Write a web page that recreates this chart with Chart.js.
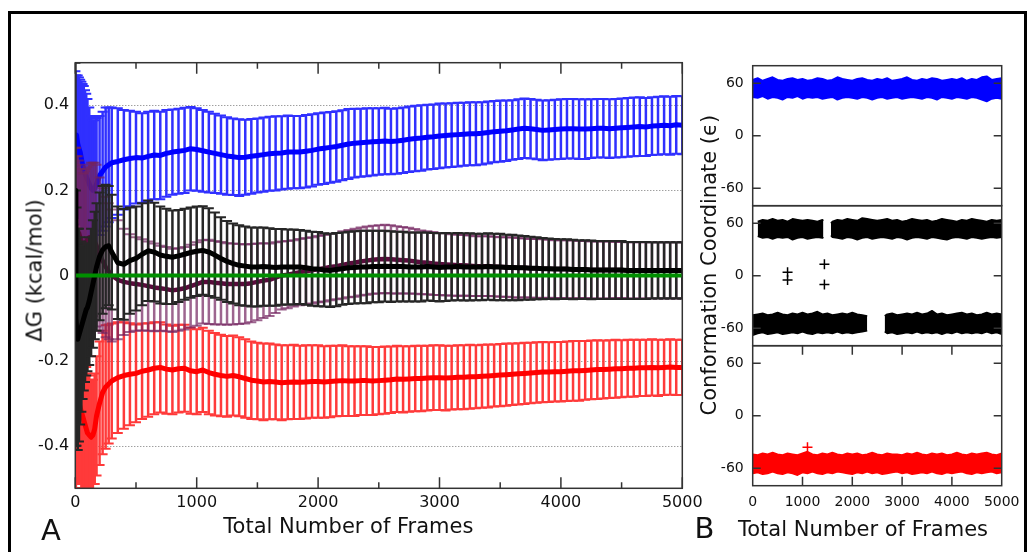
<!DOCTYPE html>
<html><head><meta charset="utf-8">
<script src="https://cdn.jsdelivr.net/npm/chart.js@4.4.1/dist/chart.umd.min.js"></script>
<style>
html,body{margin:0;padding:0;background:#fff;}
#root{position:relative;width:1031px;height:552px;overflow:hidden;background:#fff;}
canvas{position:absolute;}
.txt{position:absolute;white-space:nowrap;font-family:'DejaVu Sans',sans-serif;color:#111;}
</style></head><body><div id="root">
<div style="position:absolute;left:8px;top:11px;width:1019px;height:600px;border:3px solid #000;box-sizing:border-box;"></div>
<canvas id="cL" width="710" height="552" style="left:0;top:0;width:710px;height:552px"></canvas>
<canvas id="cR1" width="341" height="160" style="left:690px;top:55px;width:341px;height:160px"></canvas>
<canvas id="cR2" width="341" height="160" style="left:690px;top:195px;width:341px;height:160px"></canvas>
<canvas id="cR3" width="341" height="217" style="left:690px;top:335px;width:341px;height:217px"></canvas>
<div class="txt" style="left:-114.8px;top:259.5px;width:300px;height:21px;line-height:21px;font-size:21px;text-align:center;transform:rotate(-90deg);">ΔG (kcal/mol)</div>
<div class="txt" style="left:148.4px;top:515.5px;width:400px;height:21px;line-height:21px;font-size:21px;text-align:center;">Total Number of Frames</div>
<div class="txt" style="left:41px;top:516.2px;height:29px;line-height:29px;font-size:29px;">A</div>
<div class="txt" style="left:558.7px;top:255px;width:300px;height:21px;line-height:21px;font-size:21px;text-align:center;transform:rotate(-90deg);">Conformation Coordinate (ϵ)</div>
<div class="txt" style="left:663px;top:518.9px;width:400px;height:21px;line-height:21px;font-size:21px;text-align:center;">Total Number of Frames</div>
<div class="txt" style="left:694.4px;top:514px;height:29px;line-height:29px;font-size:29px;">B</div>
</div>
<script>
// ---------- Panel A data ----------
const frames = [1,5,10,20,30,40,50,60,70,80,
 90,100,115,130,145,160,175,200,225,250,
 275,
 300,350,400,450,500,550,600,650,700,750,
 800,850,900,950,1000,1050,1100,1150,1200,1250,
 1300,1350,1400,1450,1500,1550,1600,1650,1700,1750,
 1800,1850,1900,1950,2000,2050,2100,2150,2200,2250,
 2300,2350,2400,2450,2500,2550,2600,2650,2700,2750,
 2800,2850,2900,2950,3000,3050,3100,3150,3200,3250,
 3300,3350,3400,3450,3500,3550,3600,3650,3700,3750,
 3800,3850,3900,3950,4000,4050,4100,4150,4200,4250,
 4300,4350,4400,4450,4500,4550,4600,4650,4700,4750,
 4800,4850,4900,4950,5000];

const blueMean = [0.26,0.32,0.33,0.31,0.30,0.29,0.275,0.26,0.25,0.24,
 0.232,0.225,0.215,0.205,0.20,0.205,0.215,0.235,0.245,0.255,
 0.26,
 0.265,0.268,0.272,0.275,0.277,0.276,0.28,0.283,0.282,0.287,
 0.29,0.292,0.294,0.298,0.296,0.293,0.29,0.287,0.284,0.281,
 0.279,0.277,0.278,0.28,0.282,0.284,0.286,0.287,0.288,0.29,
 0.29,0.29,0.292,0.294,0.297,0.299,0.301,0.303,0.306,0.309,
 0.311,0.312,0.313,0.314,0.315,0.316,0.315,0.316,0.318,0.32,
 0.322,0.323,0.325,0.326,0.328,0.329,0.33,0.331,0.332,0.333,
 0.333,0.334,0.336,0.338,0.339,0.34,0.342,0.344,0.346,0.345,
 0.343,0.341,0.342,0.343,0.344,0.345,0.345,0.344,0.344,0.345,
 0.346,0.346,0.345,0.346,0.347,0.348,0.349,0.35,0.349,0.351,
 0.352,0.353,0.352,0.354,0.353];
const blueErr = [0.22,0.15,0.14,0.16,0.165,0.17,0.18,0.19,0.195,0.195,
 0.195,0.19,0.18,0.17,0.165,0.16,0.155,0.14,0.14,0.14,
 0.135,
 0.13,0.125,0.117,0.112,0.108,0.105,0.105,0.104,0.103,0.102,
 0.1,0.1,0.1,0.098,0.097,0.096,0.095,0.093,0.092,0.091,
 0.09,0.09,0.088,0.088,0.087,0.087,0.087,0.087,0.086,0.086,
 0.085,0.085,0.085,0.085,0.084,0.084,0.083,0.083,0.082,0.082,
 0.081,0.08,0.08,0.079,0.078,0.078,0.077,0.077,0.077,0.077,
 0.077,0.077,0.076,0.076,0.076,0.075,0.075,0.075,0.074,0.074,
 0.074,0.073,0.073,0.072,0.072,0.071,0.07,0.07,0.07,0.07,
 0.07,0.07,0.07,0.07,0.07,0.07,0.07,0.07,0.07,0.069,
 0.069,0.069,0.069,0.069,0.069,0.069,0.069,0.069,0.068,0.068,
 0.068,0.068,0.068,0.068,0.068];

const redMean = [-0.25,-0.30,-0.27,-0.29,-0.30,-0.31,-0.32,-0.33,-0.34,-0.35,
 -0.36,-0.37,-0.375,-0.38,-0.375,-0.36,-0.33,-0.30,-0.275,-0.262,
 -0.255,
 -0.248,-0.24,-0.235,-0.232,-0.23,-0.225,-0.222,-0.218,-0.216,-0.22,
 -0.222,-0.219,-0.218,-0.224,-0.226,-0.222,-0.228,-0.232,-0.235,-0.237,
 -0.235,-0.238,-0.242,-0.246,-0.248,-0.25,-0.249,-0.25,-0.252,-0.251,
 -0.25,-0.251,-0.25,-0.249,-0.249,-0.25,-0.249,-0.248,-0.247,-0.248,
 -0.248,-0.247,-0.247,-0.248,-0.247,-0.246,-0.245,-0.243,-0.244,-0.243,
 -0.242,-0.242,-0.241,-0.24,-0.24,-0.241,-0.24,-0.239,-0.239,-0.238,
 -0.238,-0.237,-0.236,-0.235,-0.234,-0.233,-0.232,-0.231,-0.23,-0.229,
 -0.228,-0.227,-0.227,-0.226,-0.226,-0.225,-0.224,-0.224,-0.223,-0.222,
 -0.221,-0.221,-0.22,-0.219,-0.219,-0.218,-0.218,-0.217,-0.217,-0.216,
 -0.217,-0.216,-0.215,-0.216,-0.216];
const redErr = [0.25,0.2,0.2,0.2,0.19,0.18,0.18,0.17,0.16,0.15,
 0.145,0.14,0.14,0.135,0.13,0.13,0.14,0.145,0.145,0.145,
 0.14,
 0.135,0.13,0.125,0.12,0.115,0.112,0.11,0.108,0.106,0.105,
 0.104,0.103,0.102,0.101,0.1,0.099,0.098,0.097,0.096,0.095,
 0.094,0.093,0.092,0.091,0.09,0.09,0.089,0.088,0.088,0.087,
 0.087,0.086,0.086,0.085,0.085,0.084,0.084,0.083,0.083,0.082,
 0.082,0.081,0.081,0.08,0.079,0.079,0.078,0.078,0.078,0.077,
 0.077,0.077,0.076,0.076,0.076,0.076,0.075,0.075,0.075,0.075,
 0.074,0.074,0.074,0.073,0.073,0.073,0.072,0.072,0.072,0.071,
 0.071,0.071,0.07,0.07,0.07,0.07,0.07,0.07,0.069,0.069,
 0.069,0.068,0.068,0.068,0.067,0.067,0.067,0.066,0.066,0.066,
 0.066,0.065,0.065,0.065,0.065];

const blackMean = [0.2,-0.1,-0.12,-0.15,-0.14,-0.13,-0.12,-0.11,-0.1,-0.09,
 -0.08,-0.075,-0.06,-0.04,-0.02,0.0,0.02,0.045,0.06,0.068,
 0.07,
 0.055,0.03,0.026,0.035,0.04,0.05,0.058,0.055,0.048,0.045,
 0.043,0.046,0.05,0.054,0.057,0.059,0.055,0.048,0.04,0.033,
 0.028,0.024,0.022,0.02,0.02,0.021,0.02,0.019,0.02,0.02,
 0.02,0.02,0.018,0.016,0.015,0.013,0.012,0.014,0.016,0.018,
 0.019,0.02,0.02,0.021,0.021,0.022,0.021,0.021,0.021,0.02,
 0.02,0.02,0.021,0.02,0.019,0.02,0.02,0.021,0.02,0.02,
 0.02,0.02,0.021,0.02,0.02,0.019,0.019,0.018,0.018,0.017,
 0.017,0.016,0.016,0.015,0.015,0.015,0.014,0.014,0.014,0.013,
 0.013,0.013,0.013,0.013,0.013,0.012,0.012,0.012,0.012,0.012,
 0.012,0.012,0.012,0.012,0.012];
const blackErr = [0.3,0.3,0.28,0.26,0.25,0.22,0.2,0.18,0.17,0.16,
 0.155,0.15,0.15,0.15,0.15,0.15,0.15,0.15,0.15,0.145,
 0.14,
 0.135,0.132,0.13,0.125,0.122,0.12,0.118,0.116,0.114,0.112,
 0.11,0.108,0.107,0.106,0.105,0.104,0.103,0.1,0.097,0.095,
 0.094,0.094,0.093,0.093,0.093,0.092,0.091,0.09,0.089,0.088,
 0.088,0.087,0.087,0.087,0.087,0.086,0.086,0.086,0.085,0.085,
 0.085,0.085,0.085,0.084,0.084,0.083,0.083,0.082,0.082,0.081,
 0.081,0.081,0.08,0.08,0.08,0.08,0.079,0.079,0.079,0.079,
 0.078,0.078,0.078,0.078,0.078,0.077,0.077,0.076,0.075,0.074,
 0.073,0.072,0.071,0.071,0.07,0.07,0.07,0.069,0.069,0.069,
 0.068,0.068,0.068,0.068,0.068,0.067,0.067,0.067,0.067,0.066,
 0.066,0.066,0.066,0.066,0.066];

const purpleMean = [0.0,0.05,0.08,0.1,0.1,0.09,0.08,0.07,0.07,0.075,
 0.08,0.085,0.09,0.09,0.085,0.08,0.07,0.05,0.035,0.02,
 0.01,
 0.0,-0.01,-0.015,-0.018,-0.02,-0.022,-0.025,-0.028,-0.03,-0.032,
 -0.035,-0.033,-0.03,-0.025,-0.02,-0.015,-0.015,-0.017,-0.018,-0.02,
 -0.02,-0.02,-0.02,-0.018,-0.015,-0.012,-0.01,-0.005,0.0,0.002,
 0.005,0.008,0.01,0.012,0.015,0.017,0.02,0.022,0.025,0.028,
 0.03,0.033,0.035,0.037,0.038,0.039,0.038,0.037,0.036,0.035,
 0.033,0.031,0.03,0.028,0.027,0.026,0.025,0.024,0.024,0.023,
 0.022,0.022,0.022,0.021,0.02,0.02,0.019,0.018,0.018,0.017,
 0.017,0.016,0.016,0.015,0.015,0.015,0.014,0.014,0.014,0.013,
 0.013,0.013,0.013,0.013,0.013,0.012,0.012,0.012,0.012,0.012,
 0.012,0.012,0.012,0.012,0.012];
const purpleErr = [0.3,0.25,0.2,0.18,0.17,0.17,0.17,0.17,0.17,0.17,
 0.17,0.17,0.17,0.175,0.18,0.185,0.19,0.18,0.17,0.165,
 0.16,
 0.155,0.14,0.125,0.115,0.11,0.107,0.105,0.103,0.1,0.099,
 0.098,0.097,0.097,0.097,0.098,0.098,0.099,0.098,0.097,0.096,
 0.095,0.094,0.093,0.092,0.09,0.088,0.085,0.083,0.08,0.079,
 0.078,0.078,0.078,0.078,0.078,0.078,0.078,0.078,0.079,0.079,
 0.08,0.08,0.08,0.08,0.08,0.08,0.08,0.079,0.078,0.077,
 0.076,0.075,0.074,0.074,0.073,0.073,0.072,0.072,0.071,0.071,
 0.07,0.07,0.07,0.07,0.07,0.07,0.07,0.07,0.069,0.069,
 0.069,0.069,0.068,0.068,0.068,0.068,0.068,0.067,0.067,0.067,
 0.067,0.067,0.067,0.066,0.066,0.066,0.066,0.066,0.066,0.066,
 0.066,0.066,0.066,0.066,0.066];

const greenFrames = [0,5000];
const greenValues = [0,0];

const leftXTicks = [0,1000,2000,3000,4000,5000];
const leftXMinor = [500,1500,2500,3500,4500];
const leftYTicks = [-0.4,-0.2,0,0.2,0.4];
const leftYGrid = [-0.4,-0.2,0.2,0.4];

// ---------- Panel B data ----------
const rFrames = [0,100,200,300,400,500,600,700,800,900,1000,1100,1200,1300,1400,1500,1600,1700,1800,1900,2000,
 2100,2200,2300,2400,2500,2600,2700,2800,2900,3000,3100,3200,3300,3400,3500,3600,3700,3800,3900,4000,
 4100,4200,4300,4400,4500,4600,4700,4800,4900,5000];
const blueHi = [64,66,63,65,67,64,63,65,66,64,65,63,64,66,65,63,64,67,65,64,63,65,66,64,63,65,64,66,63,64,
 65,67,64,63,65,64,66,65,63,64,65,64,66,63,65,64,67,68,64,65,66];
const blueLo = [44,43,45,42,44,43,41,44,43,45,42,44,43,44,42,43,44,41,43,44,43,42,44,43,41,43,44,42,43,44,
 42,43,44,43,42,44,43,41,44,43,42,44,43,42,44,43,41,39,42,43,42];
const redHi = [-44,-45,-43,-44,-42,-44,-45,-43,-44,-45,-43,-41,-44,-45,-43,-44,-42,-44,-45,-43,
 -44,-43,-45,-44,-42,-44,-45,-43,-44,-44,-45,-43,-44,-42,-44,-45,-43,-44,-43,-45,
 -44,-42,-44,-45,-43,-44,-43,-42,-44,-45,-43];
const redLo = [-66,-65,-67,-66,-64,-66,-67,-65,-66,-68,-65,-66,-64,-66,-67,-65,-66,-64,-65,-66,
 -67,-65,-66,-64,-66,-65,-67,-66,-65,-64,-66,-65,-67,-66,-65,-66,-64,-66,-67,-65,
 -66,-65,-64,-66,-67,-65,-66,-65,-64,-66,-65];
const redOutX = [1100];
const redOutY = [-36];

const bkUp1Frames = [100,200,300,400,500,600,700,800,900,1000,1100,1200,1300,1400,1420];
const bkUp1Hi = [62,64,63,65,63,64,62,65,64,63,64,63,62,64,63];
const bkUp1Lo = [45,43,44,42,44,43,44,41,43,44,42,43,44,43,44];
const bkUp2Frames = [1570,1600,1700,1800,1900,2000,2100,2200,2300,2400,2500,2600,2700,2800,2900,3000,3100,3200,
 3300,3400,3500,3600,3700,3800,3900,4000,4100,4200,4300,4400,4500,4600,4700,4800,4900,5000];
const bkUp2Hi = [60,62,64,63,65,64,63,66,65,64,63,64,65,63,64,62,63,65,64,63,64,62,63,65,64,63,62,64,63,65,64,63,62,64,63,64];
const bkUp2Lo = [46,44,43,42,44,43,41,43,44,42,43,44,43,42,44,43,41,43,44,43,42,44,43,42,41,43,44,43,42,44,43,42,43,44,43,44];
const bkLo1Frames = [0,100,200,300,400,500,600,700,800,900,1000,1100,1200,1300,1400,1500,1600,1700,1800,1900,2000,2100,2200,2300];
const bkLo1Hi = [-45,-44,-43,-45,-44,-42,-44,-45,-43,-44,-42,-44,-43,-41,-44,-43,-45,-44,-43,-44,-42,-44,-45,-46];
const bkLo1Lo = [-68,-66,-65,-67,-66,-65,-67,-66,-65,-66,-64,-66,-67,-65,-66,-65,-66,-64,-66,-65,-66,-65,-64,-63];
const bkLo2Frames = [2650,2700,2800,2900,3000,3100,3200,3300,3400,3500,3600,3700,3800,3900,4000,4100,4200,4300,4400,4500,4600,4700,4800,4900,5000];
const bkLo2Hi = [-46,-44,-43,-45,-44,-43,-44,-42,-44,-43,-40,-44,-43,-45,-44,-43,-42,-44,-43,-45,-44,-42,-44,-43,-44];
const bkLo2Lo = [-64,-66,-65,-67,-66,-65,-66,-64,-66,-65,-66,-65,-67,-65,-66,-64,-66,-65,-66,-65,-66,-64,-66,-65,-67];
const bkOutX = [700,700,1440,1440];
const bkOutY = [4,-5,13,-10];

const rightYTicks = [-60,0,60];
const rightXTicks = [0,1000,2000,3000,4000,5000];
const rightXInner = [1000,2000,3000,4000];

// ---------- helpers ----------
const pts = (xs, ys) => xs.map((x, i) => ({x: x, y: ys[i]}));
const FONT = 'DejaVu Sans';

const errorBars = {
  id: 'errorBars',
  beforeDatasetDraw(chart, args) {
    const ds = chart.data.datasets[args.index];
    if (!ds.err) return;
    const {ctx, chartArea: a} = chart;
    const xs = chart.scales.x, ys = chart.scales.y;
    ctx.save();
    ctx.beginPath(); ctx.rect(a.left, a.top, a.right - a.left, a.bottom - a.top); ctx.clip();
    ctx.strokeStyle = ds.barColor;
    ds.data.forEach((p, i) => {
      const px = xs.getPixelForValue(p.x);
      const yt = ys.getPixelForValue(p.y + ds.err[i]);
      const yb = ys.getPixelForValue(p.y - ds.err[i]);
      ctx.lineWidth = 2.5;
      ctx.beginPath(); ctx.moveTo(px, yt); ctx.lineTo(px, yb); ctx.stroke();
      ctx.lineWidth = 2;
      ctx.beginPath();
      ctx.moveTo(px - 5, yt); ctx.lineTo(px + 5, yt);
      ctx.moveTo(px - 5, yb); ctx.lineTo(px + 5, yb);
      ctx.stroke();
    });
    ctx.restore();
  }
};

const leftFrame = {
  id: 'leftFrame',
  beforeDatasetsDraw(chart) {
    const {ctx, chartArea: a} = chart; const ys = chart.scales.y;
    ctx.save(); ctx.strokeStyle = '#777'; ctx.lineWidth = 1; ctx.setLineDash([1, 2]);
    leftYGrid.forEach(v => { const y = Math.round(ys.getPixelForValue(v)) + 0.5;
      ctx.beginPath(); ctx.moveTo(a.left + 2, y); ctx.lineTo(a.right, y); ctx.stroke(); });
    ctx.restore();
  },
  afterDatasetsDraw(chart) {
    const {ctx, chartArea: a} = chart; const xs = chart.scales.x;
    ctx.save(); ctx.strokeStyle = '#333'; ctx.lineWidth = 1.5;
    ctx.strokeRect(a.left, a.top, a.right - a.left, a.bottom - a.top);
    ctx.beginPath();
    leftXTicks.forEach(v => { const x = xs.getPixelForValue(v);
      ctx.moveTo(x, a.bottom); ctx.lineTo(x, a.bottom - 11); ctx.moveTo(x, a.top); ctx.lineTo(x, a.top + 11); });
    leftXMinor.forEach(v => { const x = xs.getPixelForValue(v);
      ctx.moveTo(x, a.bottom); ctx.lineTo(x, a.bottom - 6); ctx.moveTo(x, a.top); ctx.lineTo(x, a.top + 6); });
    ctx.stroke(); ctx.restore();
  }
};

const rightFrame = {
  id: 'rightFrame',
  afterDatasetsDraw(chart) {
    const {ctx, chartArea: a} = chart; const xs = chart.scales.x, ys = chart.scales.y;
    ctx.save(); ctx.strokeStyle = '#333'; ctx.lineWidth = 1.5;
    ctx.strokeRect(a.left, a.top, a.right - a.left, a.bottom - a.top);
    ctx.beginPath();
    rightYTicks.forEach(v => { const y = ys.getPixelForValue(v);
      ctx.moveTo(a.left, y); ctx.lineTo(a.left + 8, y); ctx.moveTo(a.right, y); ctx.lineTo(a.right - 8, y); });
    if (chart.options.plugins.rightFrame.xticks) {
      rightXInner.forEach(v => { const x = xs.getPixelForValue(v);
        ctx.moveTo(x, a.bottom); ctx.lineTo(x, a.bottom - 9); ctx.moveTo(x, a.top); ctx.lineTo(x, a.top + 9); });
    }
    ctx.stroke(); ctx.restore();
  }
};

const lineDs = (data, color, width, order, extra) => Object.assign({
  data: data, borderColor: color, backgroundColor: color, borderWidth: width, pointRadius: 0,
  fill: false, tension: 0, order: order, borderJoinStyle: 'round'
}, extra || {});

const noPad = s => { s.paddingTop = 0; s.paddingBottom = 0; };

// ---------- Panel A ----------
new Chart(document.getElementById('cL'), {
  type: 'line',
  data: { datasets: [
    lineDs(pts(frames, blueMean), '#0000ff', 5, 4, {err: blueErr, barColor: '#3030ff'}),
    lineDs(pts(frames, redMean), '#ff0000', 5, 3, {err: redErr, barColor: '#ff3a3a'}),
    lineDs(pts(frames, purpleMean), '#5a0a3c', 4.5, 2, {err: purpleErr, barColor: 'rgba(115,35,95,0.7)'}),
    lineDs(pts(frames, blackMean), '#000000', 5, 1, {err: blackErr, barColor: '#262626'}),
    lineDs(pts(greenFrames, greenValues), '#008f00', 4, 0)
  ]},
  options: {
    responsive: false, animation: false, devicePixelRatio: 1,
    layout: {padding: {left: 0, top: 62.7, right: 27.7, bottom: 33.7}},
    plugins: {legend: {display: false}, tooltip: {enabled: false}},
    scales: {
      x: {type: 'linear', min: 0, max: 5000,
        grid: {display: false, drawTicks: false}, border: {display: false},
        ticks: {padding: 5, color: '#111', font: {family: FONT, size: 16}, maxRotation: 0, autoSkip: false,
          callback: v => String(v)},
        afterBuildTicks: s => { s.ticks = leftXTicks.map(v => ({value: v})); },
        afterFit: s => { s.height = 30; }},
      y: {type: 'linear', min: -0.5, max: 0.5,
        grid: {display: false, drawTicks: false}, border: {display: false},
        ticks: {padding: 6, color: '#111', font: {family: FONT, size: 16},
          callback: v => v === 0 ? '0' : v.toFixed(1)},
        afterBuildTicks: s => { s.ticks = leftYTicks.map(v => ({value: v})); },
        afterFit: s => { s.width = 75.3; noPad(s); }}
    }
  },
  plugins: [errorBars, leftFrame]
});

// ---------- Panel B ----------
function rightChart(id, datasets, showX, padTop, padBottom) {
  return new Chart(document.getElementById(id), {
    type: 'line',
    data: {datasets: datasets},
    options: {
      responsive: false, animation: false, devicePixelRatio: 1,
      layout: {padding: {left: 0, top: padTop, right: 29.3, bottom: padBottom}},
      plugins: {legend: {display: false}, tooltip: {enabled: false}, rightFrame: {xticks: showX}},
      scales: {
        x: {type: 'linear', min: 0, max: 5000, display: showX,
          grid: {display: false, drawTicks: false}, border: {display: false},
          ticks: {padding: 8, color: '#111', font: {family: FONT, size: 14}, maxRotation: 0, autoSkip: false,
            callback: v => String(v)},
          afterBuildTicks: s => { s.ticks = rightXTicks.map(v => ({value: v})); },
          afterFit: s => { s.height = showX ? 30 : 0; s.paddingLeft = 0; s.paddingRight = 0; }},
        y: {type: 'linear', min: -80, max: 80,
          grid: {display: false, drawTicks: false}, border: {display: false},
          ticks: {padding: 9, color: '#111', font: {family: FONT, size: 14}, callback: v => String(v)},
          afterBuildTicks: s => { s.ticks = rightYTicks.map(v => ({value: v})); },
          afterFit: s => { s.width = 62.7; noPad(s); }}
      }
    },
    plugins: [rightFrame]
  });
}
const band = (xs, hi, lo, color) => [
  lineDs(pts(xs, hi), color, 1.5, 1, {fill: '+1'}),
  lineDs(pts(xs, lo), color, 1.5, 1)
];
const crosses = (xs, ys, color) => lineDs(pts(xs, ys), color, 1.5, 0,
  {showLine: false, pointRadius: 5, pointStyle: 'cross', pointBorderColor: color, pointBorderWidth: 1.5});

rightChart('cR1', band(rFrames, blueHi, blueLo, '#0000ff'), false, 10.7, 9.3);
rightChart('cR2', [].concat(
  band(bkUp1Frames, bkUp1Hi, bkUp1Lo, '#000000'),
  band(bkUp2Frames, bkUp2Hi, bkUp2Lo, '#000000'),
  band(bkLo1Frames, bkLo1Hi, bkLo1Lo, '#000000'),
  band(bkLo2Frames, bkLo2Hi, bkLo2Lo, '#000000'),
  [crosses(bkOutX, bkOutY, '#000000')]
), false, 10.7, 9.3);
rightChart('cR3', [].concat(band(rFrames, redHi, redLo, '#ff0000'), [crosses(redOutX, redOutY, '#ff0000')]), true, 10.7, 36.3);
</script>
</body></html>
